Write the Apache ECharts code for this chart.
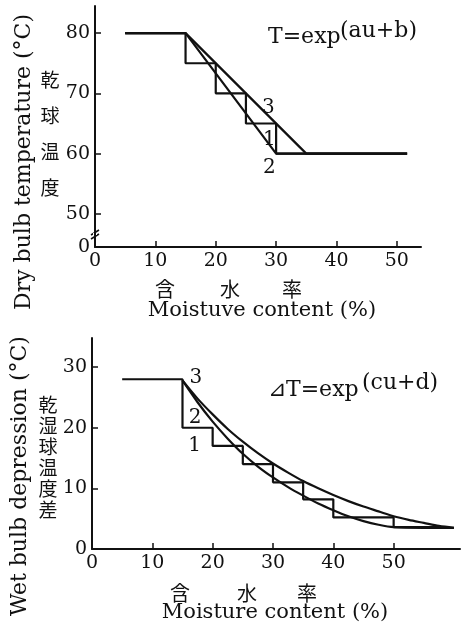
<!DOCTYPE html>
<html>
<head>
<meta charset="utf-8">
<script src="https://cdn.jsdelivr.net/npm/echarts@6/dist/echarts.min.js"></script>
<style>
html, body { margin: 0; padding: 0; background: #fff; }
#chart { width: 463px; height: 626px; }
</style>
</head>
<body>
<div id="chart"></div>
<script>
// 上图：乾球温度
var dryStep = [[5, 80], [15, 80], [15, 75], [20, 75], [20, 70], [25, 70], [25, 65], [30, 65], [30, 60], [51.7, 60]]
var dryLine2 = [[5, 80], [15, 80], [30, 60], [51.7, 60]]
var dryLine3 = [[5, 80], [15, 80], [35, 60], [51.7, 60]]
var dryTicksX = [0, 10, 20, 30, 40, 50]
var dryTicksY = [50, 60, 70, 80]

// 下图：乾湿球温度差
var wetStep = [[5, 28], [15, 28], [15, 20], [20, 20], [20, 17], [25, 17], [25, 14], [30, 14], [30, 11], [35, 11], [35, 8.2], [40, 8.2], [40, 5.2], [50, 5.2], [50, 3.6], [59, 3.6]]
var wetCurve2 = [[15, 27.8], [17.5, 24.2], [20, 21.0], [22.5, 18.2], [25, 15.7], [27.5, 13.6], [30, 11.8], [32.5, 10.2], [35, 8.8], [37.5, 7.5], [40, 6.4], [42.5, 5.4], [45, 4.6], [47.5, 4.0], [50, 3.6], [55, 3.5], [60, 3.5]]
var wetCurve3 = [[15, 27.8], [17.5, 24.8], [20, 22.2], [22.5, 19.8], [25, 17.7], [27.5, 15.8], [30, 14.1], [32.5, 12.6], [35, 11.2], [37.5, 10.0], [40, 8.9], [42.5, 7.9], [45, 7.0], [47.5, 6.2], [50, 5.4], [52.5, 4.8], [55, 4.3], [57.5, 3.8], [60, 3.5]]
var wetTicksX = [0, 10, 20, 30, 40, 50]
var wetTicksY = [0, 10, 20, 30]

var serif = 'DejaVu Serif'
var cjk = 'Noto Sans CJK JP'
var ink = '#111'

function numLabel(text, coord) {
    return {
        symbol: 'circle', symbolSize: 0, silent: true,
        label: { show: true, position: 'inside', formatter: text, color: ink, fontFamily: serif, fontSize: 20 },
        data: [{ coord: coord }]
    }
}

function lineSeries(data, xi, mark, smooth) {
    var s = {
        type: 'line', xAxisIndex: xi, yAxisIndex: xi, data: data,
        symbol: 'none', animation: false,
        lineStyle: { color: ink, width: 2.2 }
    }
    if (smooth) s.smooth = 0.3
    if (mark) s.markPoint = mark
    return s
}

function xAxisOf(gi, max, ticks) {
    return {
        type: 'value', gridIndex: gi, min: 0, max: max,
        axisLine: { lineStyle: { color: ink, width: 2 } },
        axisTick: { inside: true, length: 6, lineStyle: { color: ink, width: 1.5 }, customValues: ticks.slice(1) },
        axisLabel: { color: ink, fontFamily: serif, fontSize: 19, margin: 5, customValues: ticks },
        splitLine: { show: false }
    }
}

function txt(x, y, text, font, align, extra) {
    var el = { type: 'text', x: x, y: y, style: { text: text, font: font, fill: ink, align: align, verticalAlign: 'middle', textAlign: align, textVerticalAlign: 'middle' } }
    if (extra) {
        for (var k in extra) {
            if (k === 'lineHeight') el.style.lineHeight = extra[k]
            else el[k] = extra[k]
        }
    }
    return el
}

var chartDom = document.getElementById('chart')
var myChart = echarts.init(chartDom, null, { renderer: 'canvas' })

var fSerif = function (size) { return size + 'px "' + serif + '"' }
var fCjk = function (size) { return size + 'px "' + cjk + '"' }

var cjkX = ['含', '水', '率']
var graphics = [
    txt(24, 162, 'Dry bulb temperature (°C)', fSerif(22), 'center', { rotation: Math.PI / 2 }),
    txt(50, 134, '乾\n球\n温\n度', fCjk(19), 'center', { lineHeight: 36 }),
    txt(20, 476, 'Wet bulb depression (°C)', fSerif(22), 'center', { rotation: Math.PI / 2 }),
    txt(48, 457, '乾\n湿\n球\n温\n度\n差', fCjk(19), 'center', { lineHeight: 21 }),
    txt(262, 311, 'Moistuve content (%)', fSerif(21), 'center'),
    txt(275, 613, 'Moisture content (%)', fSerif(21), 'center'),
    // 公式
    txt(268, 37, 'T=exp', fSerif(22), 'left'),
    txt(340, 31, '(au+b)', fSerif(22), 'left'),
    txt(268, 390, '⊿T=exp', fSerif(22), 'left'),
    txt(362, 383, '(cu+d)', fSerif(22), 'left'),
    // 纵轴断裂符号
    { type: 'polyline', shape: { points: [[91, 235], [99, 230]] }, style: { stroke: ink, lineWidth: 1.5 } },
    { type: 'polyline', shape: { points: [[91, 239], [99, 234]] }, style: { stroke: ink, lineWidth: 1.5 } },
    { type: 'rect', shape: { x: 93, y: 233, width: 4, height: 2 }, style: { fill: '#fff' } }
]
var cjkPosTop = [165, 230, 292]
var cjkPosBot = [180, 247, 307]
for (var i = 0; i < cjkX.length; i++) {
    graphics.push(txt(cjkPosTop[i], 289, cjkX[i], fCjk(20), 'center'))
    graphics.push(txt(cjkPosBot[i], 593, cjkX[i], fCjk(20), 'center'))
}

var option = {
    backgroundColor: '#fff',
    animation: false,
    grid: [
        { left: 95, top: 6, width: 326, height: 241, outerBoundsMode: 'none' },
        { left: 92, top: 338, width: 368, height: 211, outerBoundsMode: 'none' }
    ],
    xAxis: [xAxisOf(0, 54, dryTicksX), xAxisOf(1, 61, wetTicksX)],
    yAxis: [
        {
            type: 'value', gridIndex: 0, min: 44.5, max: 84.5,
            axisLine: { show: true, lineStyle: { color: ink, width: 2 } },
            axisTick: { show: true, inside: true, length: 6, lineStyle: { color: ink, width: 1.5 }, customValues: dryTicksY },
            axisLabel: {
                color: ink, fontFamily: serif, fontSize: 19, margin: 5,
                customValues: [44.5].concat(dryTicksY),
                formatter: function (v) { return v < 45 ? '0' : String(v) }
            },
            splitLine: { show: false }
        },
        {
            type: 'value', gridIndex: 1, min: 0, max: 34.8,
            axisLine: { show: true, lineStyle: { color: ink, width: 2 } },
            axisTick: { show: true, inside: true, length: 6, lineStyle: { color: ink, width: 1.5 }, customValues: wetTicksY.slice(1) },
            axisLabel: { color: ink, fontFamily: serif, fontSize: 19, margin: 5, customValues: wetTicksY },
            splitLine: { show: false }
        }
    ],
    series: [
        lineSeries(dryStep, 0, numLabel('1', [28.9, 62.3])),
        lineSeries(dryLine2, 0, numLabel('2', [28.9, 57.6])),
        lineSeries(dryLine3, 0, numLabel('3', [28.7, 67.6])),
        lineSeries(wetStep, 1, numLabel('1', [17.0, 17.1])),
        lineSeries(wetCurve2, 1, numLabel('2', [17.1, 21.7]), true),
        lineSeries(wetCurve3, 1, numLabel('3', [17.2, 28.3]), true)
    ],
    graphic: graphics
}
myChart.setOption(option)
</script>
</body>
</html>
